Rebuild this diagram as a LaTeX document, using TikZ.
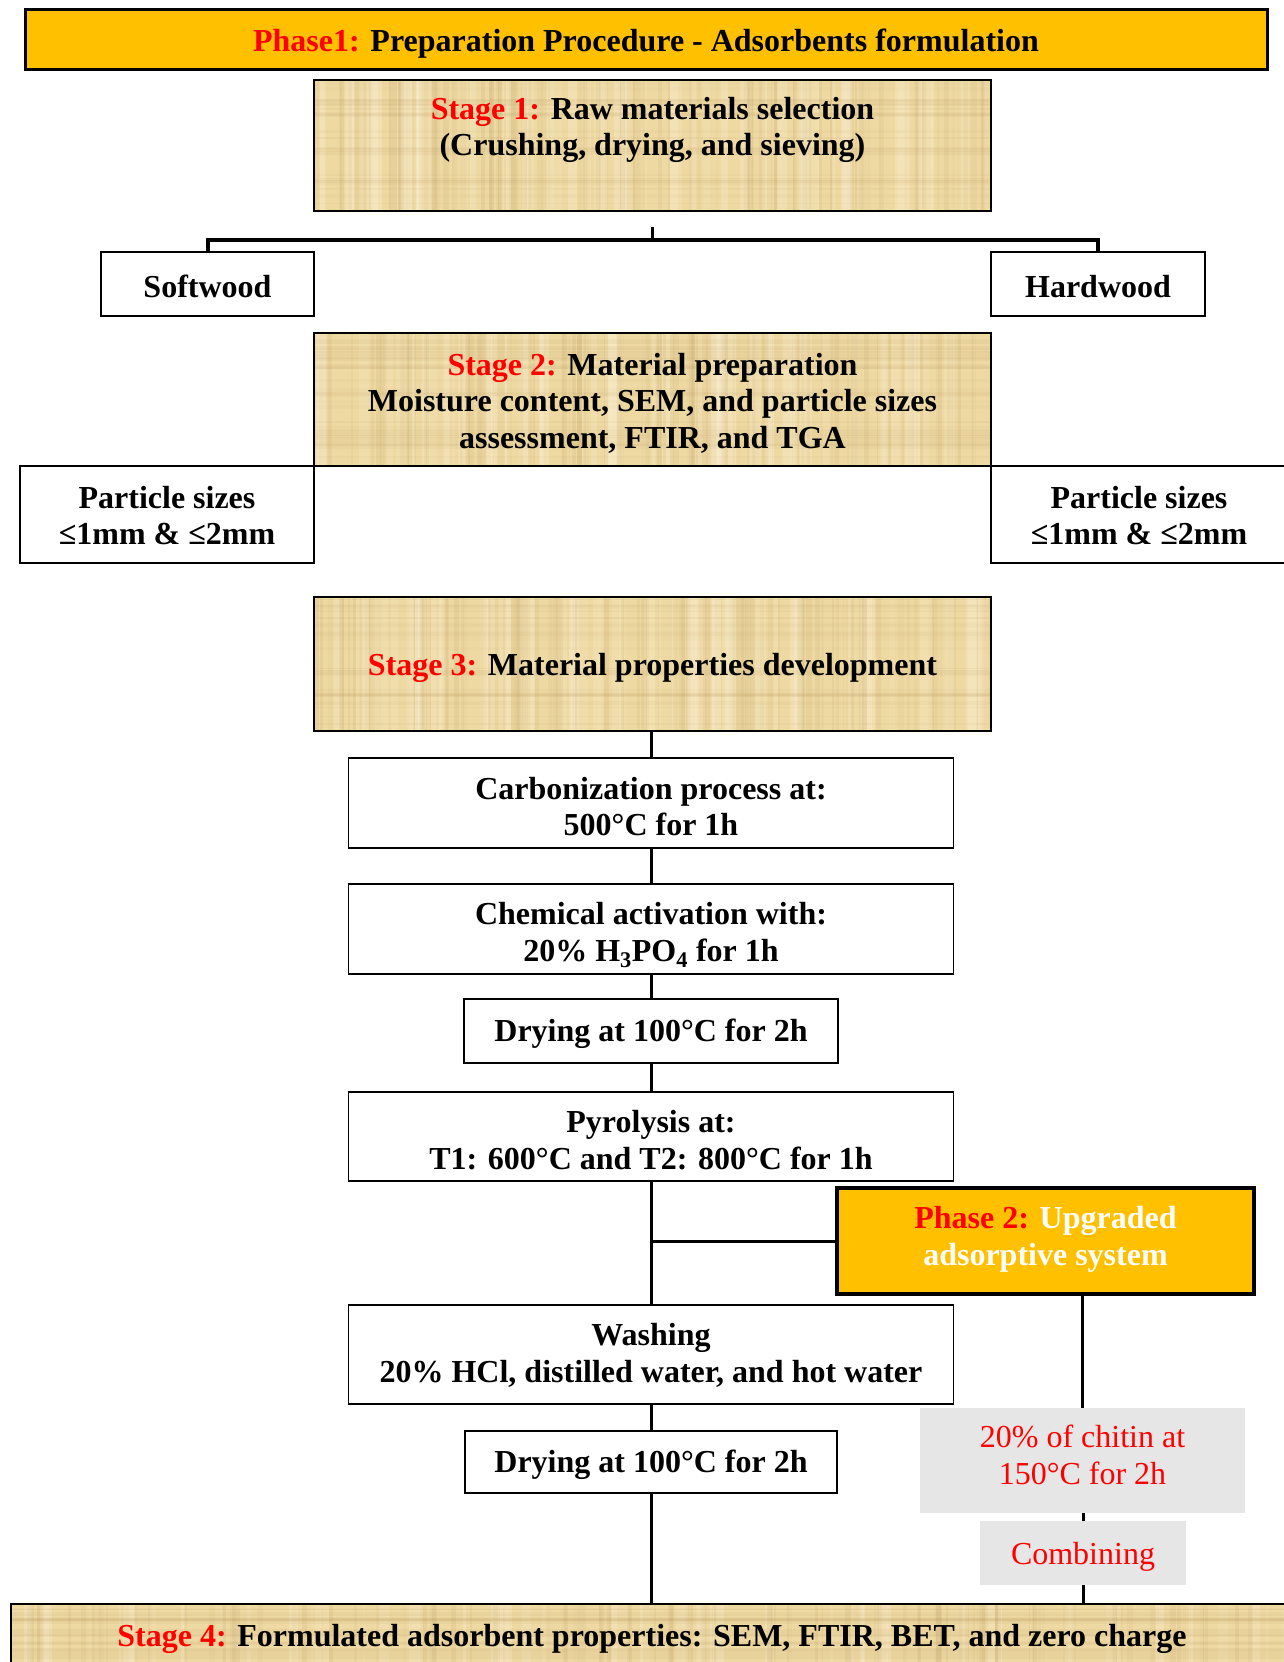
\documentclass[tikz,border=0pt]{standalone}
\usepackage{fontspec}
\setmainfont{Liberation Serif}
\definecolor{gold}{RGB}{255,192,0}
\definecolor{papyrus}{RGB}{238,217,163}
\definecolor{papdark}{RGB}{175,140,80}
\definecolor{paplight}{RGB}{255,246,222}
\definecolor{chitgray}{RGB}{230,230,230}
\definecolor{redtxt}{RGB}{255,0,0}
\newcommand\papyrusfill[4]{%
  \begin{scope}
    \clip (#1,#2) rectangle (#3,#4);
    \fill[papyrus] (#1,#2) rectangle (#3,#4);
    \foreach \k in {1,...,110}{%
      \pgfmathsetmacro\xx{#1+rnd*(#3-#1)}%
      \pgfmathsetmacro\ww{1+rnd*5}%
      \pgfmathsetmacro\op{0.03+rnd*0.09}%
      \fill[papdark,opacity=\op] (\xx,#2) rectangle ({\xx+\ww},#4);
    }
    \foreach \k in {1,...,60}{%
      \pgfmathsetmacro\xx{#1+rnd*(#3-#1)}%
      \pgfmathsetmacro\ww{2+rnd*10}%
      \pgfmathsetmacro\op{0.08+rnd*0.2}%
      \fill[paplight,opacity=\op] (\xx,#2) rectangle ({\xx+\ww},#4);
    }
    \foreach \k in {1,...,25}{%
      \pgfmathsetmacro\yy{#2+rnd*(#4-#2)}%
      \pgfmathsetmacro\hh{1+rnd*4}%
      \pgfmathsetmacro\op{0.03+rnd*0.07}%
      \fill[papdark,opacity=\op] (#1,\yy) rectangle (#3,{\yy+\hh});
    }
  \end{scope}}
\tikzset{
  txt/.style={font=\fontsize{32}{36.5}\selectfont\bfseries, align=center, inner sep=0pt, outer sep=0pt},
  rtxt/.style={font=\fontsize{32}{36.5}\selectfont, text=redtxt, align=center, inner sep=0pt, outer sep=0pt},
  wbox/.style={draw=black, line width=1.5pt, fill=white, inner sep=0pt, outer sep=0pt},
  tbox/.style={draw=black, line width=1.5pt, inner sep=0pt, outer sep=0pt},
  gbox/.style={fill=chitgray, inner sep=0pt, outer sep=0pt},
  goldbox/.style={fill=gold, draw=black, inner sep=0pt, outer sep=0pt},
  conn/.style={draw=black, line width=3pt},
  brack/.style={draw=black, line width=4pt},
}
\begin{document}
\begin{tikzpicture}[x=1pt,y=-1pt]
\useasboundingbox (0,0) rectangle (1284,1662);
\begin{scope}
\clip (0,0) rectangle (1284,1662);
\pgfmathsetseed{7}
% Phase 1
\node[goldbox, line width=3pt, minimum width=1242pt, minimum height=60pt] (p1) at (646,40) {};
\node[txt] (p1t) at (646,44) {\textcolor{redtxt}{Phase1:} Preparation Procedure - Adsorbents formulation};
% Stage 1
\papyrusfill{314}{80}{991}{211}
\node[tbox, minimum width=677pt, minimum height=131pt] (s1) at (652.5,145.5) {};
\node[txt] (s1t) at (652.5,130) {\textcolor{redtxt}{Stage 1:} Raw materials selection\\(Crushing, drying, and sieving)};
% Softwood / Hardwood
\node[wbox, minimum width=213pt, minimum height=64pt] (soft) at (207.5,284) {};
\node[txt] (softt) at (207.5,286.5) {Softwood};
\node[wbox, minimum width=214pt, minimum height=64pt] (hard) at (1098,284) {};
\node[txt] (hardt) at (1098,286.5) {Hardwood};
\coordinate (bt) at (652.5,227);
\coordinate (bj) at (652.5,240);
\draw[brack] (soft.north) |- (bj) -| (hard.north);
\draw[conn] (bt) -- (bj);
% Stage 2
\papyrusfill{314}{333}{991}{466}
\node[tbox, minimum width=677pt, minimum height=133pt] (s2) at (652.5,399.5) {};
\node[txt] (s2t) at (652.5,403)
  {\textcolor{redtxt}{Stage 2:} Material preparation\\Moisture content, SEM, and particle sizes\\assessment, FTIR, and TGA};
\node[wbox, minimum width=294pt, minimum height=97pt] (psl) at (167,514.5) {};
\node[txt] (pslt) at (167,515.5) {Particle sizes\\≤1mm \& ≤2mm};
\node[wbox, minimum width=296pt, minimum height=97pt] (psr) at (1139,514.5) {};
\node[txt] (psrt) at (1139,515.5) {Particle sizes\\≤1mm \& ≤2mm};
% Stage 3
\papyrusfill{314}{597}{991}{731}
\node[tbox, minimum width=677pt, minimum height=134pt] (s3) at (652.5,664) {};
\node[txt] (s3t) at (652.5,668) {\textcolor{redtxt}{Stage 3:} Material properties development};
% main column
\node[wbox, minimum width=605pt, minimum height=90pt] (carb) at (651,803) {};
\node[txt] (carbt) at (651,806.5) {Carbonization process at:\\500°C for 1h};
\node[wbox, minimum width=605pt, minimum height=90pt] (chem) at (651,929) {};
\node[txt] (chemt) at (651,935) {Chemical activation with:\\20\% H\textsubscript{3}PO\textsubscript{4} for 1h};
\node[wbox, minimum width=374pt, minimum height=64pt] (dry1) at (651,1031) {};
\node[txt] (dry1t) at (651,1033.5) {Drying at 100°C for 2h};
\node[wbox, minimum width=605pt, minimum height=89pt] (pyro) at (651,1136.5) {};
\node[txt] (pyrot) at (651,1140) {Pyrolysis at:\\T1: 600°C and T2: 800°C for 1h};
\node[wbox, minimum width=605pt, minimum height=99pt] (wash) at (651,1354.5) {};
\node[txt] (washt) at (651,1355.5) {Washing\\20\% HCl, distilled water, and hot water};
\node[wbox, minimum width=372pt, minimum height=62pt] (dry2) at (651,1462) {};
\node[txt] (dry2t) at (651,1465) {Drying at 100°C for 2h};
% Phase 2
\node[goldbox, line width=3.5pt, minimum width=417pt, minimum height=106pt] (p2) at (1045.5,1241) {};
\node[txt, text=white] (p2t) at (1045.5,1239.5) {\textcolor{redtxt}{Phase 2:} Upgraded\\adsorptive system};
\node[gbox, minimum width=325pt, minimum height=105pt] (chit) at (1082.5,1460.5) {};
\node[rtxt] (chitt) at (1082.5,1455) {20\% of chitin at\\150°C for 2h};
\node[gbox, minimum width=206pt, minimum height=64pt] (comb) at (1083,1553) {};
\node[rtxt] (combt) at (1083,1557) {Combining};
% Stage 4
\papyrusfill{11}{1604}{1295}{1670}
\node[tbox, minimum width=1284pt, minimum height=66pt] (s4) at (653,1637) {};
\node[txt] (s4t) at (652,1639) {\textcolor{redtxt}{Stage 4:} Formulated adsorbent properties: SEM, FTIR, BET, and zero charge};
% connectors
\draw[conn] (carb.north) -- (carb.north |- s3.south);
\draw[conn] (carb.south) -- (chem.north);
\draw[conn] (chem.south) -- (dry1.north);
\draw[conn] (dry1.south) -- (pyro.north);
\draw[conn] (pyro.south) -- (wash.north);
\coordinate (tj) at (pyro.south |- p2.west);
\draw[conn] (tj) -- (p2.west);
\draw[conn] (wash.south) -- (dry2.north);
\draw[conn] (dry2.south) -- (dry2.south |- s4.north);
\draw[conn] (chit.north) -- (chit.north |- p2.south);
\draw[conn] (comb.north) -- (comb.north |- chit.south);
\draw[conn] (comb.south) -- (comb.south |- s4.north);
\end{scope}
\end{tikzpicture}
\end{document}
